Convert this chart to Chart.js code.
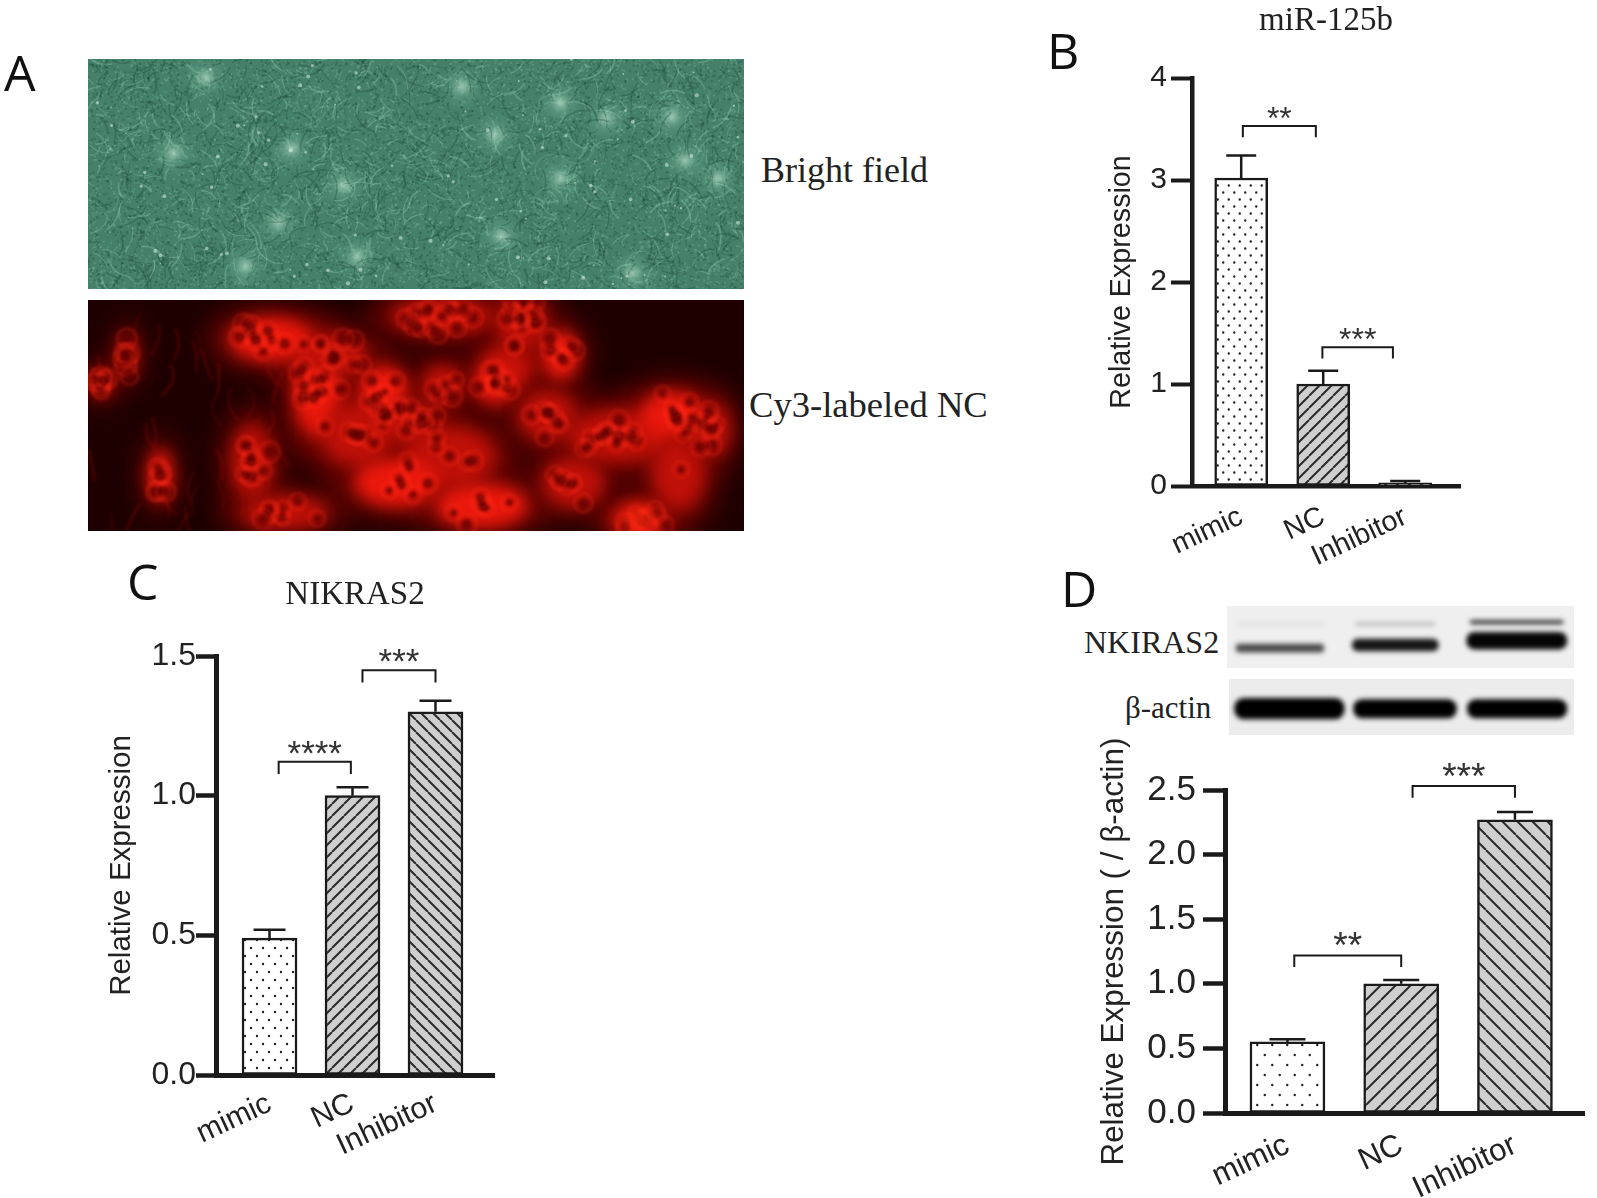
<!DOCTYPE html>
<html>
<head>
<meta charset="utf-8">
<title>miR-125b and NKIRAS2 expression</title>
<script src="https://cdn.jsdelivr.net/npm/chart.js@4/dist/chart.umd.min.js"></script>
<style>
  html, body { margin: 0; padding: 0; background: #fff; }
  body { position: relative; width: 1597px; height: 1198px; overflow: hidden; }
  canvas { position: absolute; }
  .letter { position: absolute; font: 50px "Open Sans", sans-serif; line-height: 1; color: #111; }
  .serif { position: absolute; font-family: "Liberation Serif", serif; line-height: 1; color: #222; white-space: nowrap; }
</style>
</head>
<body>
<canvas id="bright" style="left:88px;top:59px" width="656" height="230"></canvas>
<canvas id="cy3" style="left:88px;top:300px" width="656" height="231"></canvas>
<canvas id="blotTop" style="left:1227px;top:606px" width="347" height="62"></canvas>
<canvas id="blotBottom" style="left:1229px;top:679px" width="345" height="56"></canvas>

<div class="letter" style="left:4px;top:47px">A</div>
<div class="letter" style="left:1047px;top:25px">B</div>
<div class="letter" style="left:127px;top:556px">C</div>
<div class="letter" style="left:1061px;top:563px">D</div>
<div class="serif" style="left:761px;top:152px;font-size:36px">Bright field</div>
<div class="serif" style="left:749px;top:387px;font-size:36.6px">Cy3-labeled NC</div>
<div class="serif" style="left:1084px;top:626px;font-size:32px">NKIRAS2</div>
<div class="serif" style="left:1125px;top:692px;font-size:31px">β-actin</div>

<canvas id="chartB" style="left:1105px;top:0px" width="395" height="590"></canvas>
<canvas id="chartC" style="left:104px;top:576px" width="416" height="610"></canvas>
<canvas id="chartD" style="left:1096px;top:730px" width="501" height="468"></canvas>

<script>
const categories = ['mimic', 'NC', 'Inhibitor'];

const mirValues = [3.02, 1.0, 0.03];
const mirErrors = [0.22, 0.13, 0.02];
const mirTicks = [0, 1, 2, 3, 4];

const nikrasValues = [0.49, 1.0, 1.30];
const nikrasErrors = [0.03, 0.03, 0.04];
const nikrasTicks = [0, 0.5, 1.0, 1.5];

const blotValues = [0.55, 1.0, 2.27];
const blotErrors = [0.02, 0.03, 0.06];
const blotTicks = [0, 0.5, 1.0, 1.5, 2.0, 2.5];

const INK = '#1a1a1a';
const SANS = '"Liberation Sans", Arial, sans-serif';
const SERIF = '"Liberation Serif", serif';

function dotPattern(stepX, stepY) {
  const tile = document.createElement('canvas');
  tile.width = stepX;
  tile.height = stepY * 2;
  const c = tile.getContext('2d');
  c.fillStyle = '#fff';
  c.fillRect(0, 0, tile.width, tile.height);
  c.fillStyle = '#222';
  c.beginPath();
  c.arc(stepX / 4, stepY / 2, 1.2, 0, Math.PI * 2);
  c.arc(stepX * 3 / 4, stepY * 1.5, 1.2, 0, Math.PI * 2);
  c.fill();
  return c.createPattern(tile, 'repeat');
}

function hatchPattern(step, rising) {
  const tile = document.createElement('canvas');
  tile.width = step;
  tile.height = step;
  const c = tile.getContext('2d');
  c.fillStyle = '#cfcfcf';
  c.fillRect(0, 0, step, step);
  c.strokeStyle = '#2b2b2b';
  c.lineWidth = 2;
  c.beginPath();
  for (let i = -1; i <= 1; i++) {
    if (rising) {
      c.moveTo(i * step, step);
      c.lineTo(i * step + step, 0);
    } else {
      c.moveTo(i * step, 0);
      c.lineTo(i * step + step, step);
    }
  }
  c.stroke();
  return c.createPattern(tile, 'repeat');
}

// error bars and significance brackets, placed through the chart's own scales
const marksPlugin = {
  id: 'marks',
  afterDatasetsDraw(chart, args, opts) {
    const { ctx, scales: { x, y } } = chart;
    ctx.save();
    ctx.strokeStyle = INK;
    ctx.lineWidth = 2.5;
    opts.values.forEach((v, i) => {
      const px = x.getPixelForValue(i);
      const top = y.getPixelForValue(v + opts.errors[i]);
      ctx.beginPath();
      ctx.moveTo(px, y.getPixelForValue(v));
      ctx.lineTo(px, top);
      ctx.moveTo(px - opts.cap, top);
      ctx.lineTo(px + opts.cap, top);
      ctx.stroke();
    });
    ctx.lineWidth = 2;
    ctx.textAlign = 'center';
    ctx.textBaseline = 'alphabetic';
    ctx.fillStyle = '#333';
    ctx.font = opts.starSize + 'px ' + SANS;
    opts.brackets.forEach(b => {
      const left = x.getPixelForValue(b.from);
      const right = x.getPixelForValue(b.to);
      const top = y.getPixelForValue(b.top);
      const foot = y.getPixelForValue(b.foot);
      ctx.beginPath();
      ctx.moveTo(left, foot);
      ctx.lineTo(left, top);
      ctx.lineTo(right, top);
      ctx.lineTo(right, foot);
      ctx.stroke();
      ctx.fillText(b.stars, (left + right) / 2, top + 3);
    });
    ctx.restore();
  }
};

function draw(id, cfg) {
  const canvas = document.getElementById(id);
  const box = canvas.getBoundingClientRect();
  new Chart(canvas, {
    type: 'bar',
    data: {
      datasets: [{
        data: cfg.values.map((v, i) => ({ x: i, y: v })),
        backgroundColor: cfg.fills,
        borderColor: INK,
        borderWidth: 2.5,
        borderSkipped: false,
        barThickness: cfg.barWidth,
      }],
    },
    plugins: [marksPlugin],
    options: {
      responsive: false,
      animation: false,
      layout: {
        padding: {
          left: 0,
          top: cfg.title ? 0 : cfg.yTop - box.top,
          right: box.right - cfg.xEnd,
          bottom: 0,
        },
      },
      plugins: {
        legend: { display: false },
        tooltip: { enabled: false },
        title: {
          display: !!cfg.title,
          text: cfg.title,
          color: '#222',
          fullSize: false,
          font: { family: SERIF, size: cfg.titleSize, weight: 'normal' },
          padding: { top: cfg.titleTop, bottom: cfg.yTop - box.top - cfg.titleSize * 1.2 - cfg.titleTop },
        },
        marks: {
          values: cfg.values,
          errors: cfg.errors,
          brackets: cfg.brackets,
          cap: cfg.cap,
          starSize: cfg.starSize,
        },
      },
      scales: {
        x: {
          type: 'linear',
          offset: false,
          min: cfg.xMin,
          max: cfg.xMax,
          afterBuildTicks: s => { s.ticks = categories.map((c, i) => ({ value: i })); },
          afterFit: s => { s.height = box.bottom - cfg.yZero; },
          grid: { display: false, offset: false },
          border: { display: true, color: INK, width: cfg.axisWidth },
          ticks: {
            autoSkip: false,
            minRotation: 25,
            maxRotation: 25,
            padding: cfg.xPad,
            color: '#222',
            font: { family: SANS, size: cfg.xFont },
            callback: v => categories[v],
          },
        },
        y: {
          min: 0,
          max: cfg.ticks[cfg.ticks.length - 1],
          afterBuildTicks: s => { s.ticks = cfg.ticks.map(v => ({ value: v })); },
          afterFit: s => { s.width = cfg.x0 - box.left; },
          grid: {
            drawOnChartArea: false,
            drawTicks: true,
            tickLength: cfg.tickLength,
            tickWidth: cfg.axisWidth - 0.5,
            tickColor: INK,
          },
          border: { display: true, color: INK, width: cfg.axisWidth },
          ticks: {
            padding: cfg.yPad,
            color: '#222',
            font: { family: SANS, size: cfg.yFont },
            callback: v => cfg.decimals ? v.toFixed(cfg.decimals) : String(v),
          },
          title: {
            display: true,
            text: cfg.yTitle,
            color: '#222',
            padding: 0,
            font: { family: SANS, size: cfg.yTitleSize },
          },
        },
      },
    },
  });
}

draw('chartB', {
  values: mirValues, errors: mirErrors, ticks: mirTicks, decimals: 0,
  title: 'miR-125b', titleSize: 33, titleTop: 2, yTitle: 'Relative Expression', yTitleSize: 28.7,
  fills: [dotPattern(11, 7), hatchPattern(12, true), hatchPattern(12, false)],
  barWidth: 53, cap: 15, starSize: 32, tickLength: 21, axisWidth: 4.5, xFont: 28.5, yFont: 30, xPad: 6, yPad: 4,
  x0: 1192, xEnd: 1460, yTop: 78, yZero: 486, xMin: -0.6, xMax: 2.668,
  brackets: [
    { from: 0.02, to: 0.91, top: 3.53, foot: 3.42, stars: '**' },
    { from: 0.99, to: 1.85, top: 1.36, foot: 1.25, stars: '***' },
  ],
});

draw('chartC', {
  values: nikrasValues, errors: nikrasErrors, ticks: nikrasTicks, decimals: 1,
  title: 'NIKRAS2', titleSize: 33, titleTop: 0, yTitle: 'Relative Expression', yTitleSize: 29.5,
  fills: [dotPattern(12, 8), hatchPattern(12, true), hatchPattern(12, false)],
  barWidth: 55, cap: 16, starSize: 35, tickLength: 20, axisWidth: 5, xFont: 30, yFont: 32, xPad: 3, yPad: 0,
  x0: 216, xEnd: 494, yTop: 656, yZero: 1075, xMin: -0.645, xMax: 2.705,
  brackets: [
    { from: 0.11, to: 0.98, top: 1.121, foot: 1.078, stars: '****' },
    { from: 1.12, to: 2.0, top: 1.449, foot: 1.405, stars: '***' },
  ],
});

draw('chartD', {
  values: blotValues, errors: blotErrors, ticks: blotTicks, decimals: 1,
  yTitle: 'Relative Expression ( / β-actin)', yTitleSize: 31.4,
  fills: [dotPattern(15, 10), hatchPattern(15, true), hatchPattern(15, false)],
  barWidth: 75, cap: 18, starSize: 37, tickLength: 22, axisWidth: 5, xFont: 31, yFont: 35, xPad: 6, yPad: 7,
  x0: 1225, xEnd: 1584, yTop: 790, yZero: 1113, xMin: -0.549, xMax: 2.607,
  brackets: [
    { from: 0.06, to: 1.0, top: 1.22, foot: 1.13, stars: '**' },
    { from: 1.1, to: 2.0, top: 2.53, foot: 2.44, stars: '***' },
  ],
});

// Panel A and the blot strips are photographs in the original, so they are only painted approximately here
let seed = 12345;
function rnd() {
  seed = (seed * 16807) % 2147483647;
  return seed / 2147483647;
}

function paintBright() {
  const canvas = document.getElementById('bright');
  const c = canvas.getContext('2d');
  const w = canvas.width, h = canvas.height;
  c.fillStyle = '#44806a';
  c.fillRect(0, 0, w, h);
  c.lineCap = 'round';
  // fine grain first, then the filaments
  for (let i = 0; i < 9000; i++) {
    c.fillStyle = rnd() > 0.5 ? 'rgba(140,195,165,0.25)' : 'rgba(25,70,55,0.3)';
    c.fillRect(rnd() * w, rnd() * h, 2, 2);
  }
  const spots = [[.62,.33],[.31,.39],[.39,.55],[.29,.71],[.13,.41],[.63,.77],[.83,.93],[.96,.52],[.89,.25],
    [.72,.19],[.57,.12],[.18,.08],[.79,.26],[.91,.44],[.24,.90],[.41,.86],[.72,.52]];
  spots.forEach(s => {
    const x = s[0] * w, y = s[1] * h;
    const g = c.createRadialGradient(x, y, 1, x, y, 24);
    g.addColorStop(0, 'rgba(200,235,215,0.6)');
    g.addColorStop(0.4, 'rgba(150,210,180,0.22)');
    g.addColorStop(1, 'rgba(120,190,160,0)');
    c.fillStyle = g;
    c.fillRect(x - 24, y - 24, 48, 48);
  });
  for (let i = 0; i < 1300; i++) {
    const x = rnd() * w, y = rnd() * h, a = rnd() * 6.28, l = 5 + rnd() * 22;
    const light = rnd() > 0.55;
    c.strokeStyle = light ? 'rgba(160,220,190,0.28)' : 'rgba(25,70,55,0.3)';
    c.lineWidth = 0.7 + rnd() * 1.2;
    c.beginPath();
    c.moveTo(x, y);
    c.quadraticCurveTo(x + l * 0.6 * Math.cos(a + 0.4), y + l * 0.6 * Math.sin(a + 0.4), x + l * Math.cos(a), y + l * Math.sin(a));
    c.stroke();
  }
  // faint cell outlines
  for (let i = 0; i < 40; i++) {
    c.strokeStyle = 'rgba(170,225,200,0.14)';
    c.lineWidth = 1.5;
    c.beginPath();
    c.arc(rnd() * w, rnd() * h, 8 + rnd() * 10, rnd() * 6, rnd() * 6 + 2);
    c.stroke();
  }
  for (let i = 0; i < 90; i++) {
    c.fillStyle = 'rgba(215,240,225,0.55)';
    c.beginPath();
    c.arc(rnd() * w, rnd() * h, 0.8 + rnd() * 1.3, 0, 6.29);
    c.fill();
  }
}

function paintCy3() {
  const canvas = document.getElementById('cy3');
  const c = canvas.getContext('2d');
  const w = canvas.width, h = canvas.height;
  c.fillStyle = '#1e0000';
  c.fillRect(0, 0, w, h);
  const blobs = [[.28,.17,42,22],[.54,.07,50,18],[.66,.10,24,28],[.35,.40,24,44],[.54,.37,20,20],[.64,.29,26,22],
    [.62,.36,20,20],[.25,.70,20,36],[.81,.59,52,26],[.89,.50,32,24],[.41,.58,36,32],[.55,.68,46,30],[.47,.79,42,24],
    [.84,.95,30,18],[.30,.92,42,16],[.60,.89,46,22],[.74,.79,30,24],[.90,.75,26,36],[.72,.24,18,24],[.02,.36,10,14],
    [.06,.24,8,22],[.11,.76,11,26],[.95,.56,18,26],[.37,.24,36,20],[.45,.39,24,24],[.49,.53,30,20],[.70,.50,28,24]];
  // dim haze under the cells
  c.filter = 'blur(14px)';
  blobs.forEach(b => {
    c.fillStyle = 'rgb(115,6,3)';
    c.beginPath();
    c.ellipse(b[0] * w, b[1] * h, b[2] * 1.5, b[3] * 1.5, 0, 0, 6.29);
    c.fill();
  });
  c.filter = 'blur(8px)';
  blobs.forEach((b, i) => {
    c.fillStyle = i % 3 === 0 ? 'rgb(235,24,12)' : 'rgb(190,16,8)';
    c.beginPath();
    c.ellipse(b[0] * w, b[1] * h, b[2], b[3], 0, 0, 6.29);
    c.fill();
  });
  // thin filaments in the dark left part
  c.filter = 'blur(1.5px)';
  c.lineCap = 'round';
  for (let i = 0; i < 40; i++) {
    const x = rnd() * w * 0.3, y = rnd() * h;
    c.strokeStyle = 'rgba(150,12,6,0.3)';
    c.lineWidth = 1.5 + rnd() * 2;
    c.beginPath();
    c.moveTo(x, y);
    c.quadraticCurveTo(x + 14 - rnd() * 28, y + 14, x + 14 - rnd() * 28, y + 30);
    c.stroke();
  }
  // cell outlines and dark nuclei, only where a cell sits
  c.filter = 'blur(1.8px)';
  for (let i = 0; i < 240; i++) {
    const b = blobs[Math.floor(rnd() * blobs.length)];
    const a = rnd() * 6.28, d = rnd();
    const x = b[0] * w + Math.cos(a) * d * b[2];
    const y = b[1] * h + Math.sin(a) * d * b[3];
    const r = 3 + rnd() * 2.5;
    c.strokeStyle = 'rgba(255,45,28,0.28)';
    c.lineWidth = 2.5;
    c.beginPath();
    c.arc(x, y, r + 5, 0, 6.29);
    c.stroke();
    c.fillStyle = 'rgba(90,0,0,0.65)';
    c.beginPath();
    c.arc(x, y, r, 0, 6.29);
    c.fill();
  }
  c.filter = 'blur(9px)';
  c.fillStyle = 'rgb(255,40,15)';
  c.beginPath();
  c.ellipse(.84 * w, .95 * h, 16, 12, 0, 0, 6.29);
  c.fill();
  c.filter = 'none';
}

function paintBlot(id, background, bands) {
  const canvas = document.getElementById(id);
  const c = canvas.getContext('2d');
  const w = canvas.width, h = canvas.height;
  c.fillStyle = background;
  c.fillRect(0, 0, w, h);
  c.filter = 'blur(2.4px)';
  bands.forEach(b => {
    const bandH = b[3] * h;
    c.fillStyle = b[4];
    c.beginPath();
    c.roundRect(b[0] * w, b[2] * h - bandH / 2, (b[1] - b[0]) * w, bandH, bandH / 2.2);
    c.fill();
  });
  c.filter = 'none';
}

paintBright();
paintCy3();
paintBlot('blotTop', '#efefef', [
  [.025, .28, .68, .14, '#4a4a4a'], [.03, .28, .29, .04, '#d8d8d8'],
  [.36, .61, .63, .2, '#161616'], [.37, .60, .29, .05, '#b0b0b0'],
  [.69, .98, .56, .28, '#050505'], [.70, .97, .26, .07, '#333'],
]);
paintBlot('blotBottom', '#ececec', [
  [.015, .335, .53, .38, '#000'], [.36, .66, .53, .34, '#000'], [.69, .98, .53, .34, '#000'],
]);
</script>
</body>
</html>
